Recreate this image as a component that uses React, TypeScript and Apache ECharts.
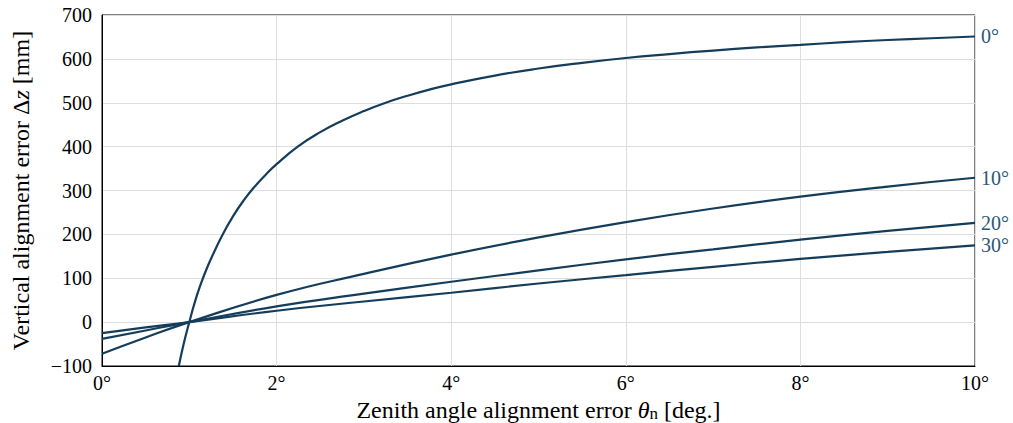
import React, { useEffect, useRef } from "react";
import * as echarts from "echarts";

// ---- Data ----
const xTicks = [0, 2, 4, 6, 8, 10];
const yTicks = [-100, 0, 100, 200, 300, 400, 500, 600, 700];

// 0° curve (denser where it bends sharply)
const theta0 = [
  0.88, 0.94, 1.0, 1.0625, 1.125, 1.1875, 1.25, 1.375, 1.5, 1.625, 1.75, 1.875, 2.0,
  2.25, 2.5, 2.75, 3.0, 3.25, 3.5, 3.75, 4.0,
  4.5, 5.0, 5.5, 6.0, 6.5, 7.0, 7.5, 8.0, 8.5, 9.0, 9.5, 10.0,
];
const dz0 = [
  -100, -46, 0, 45, 83, 116, 145, 197, 241, 278, 309, 336, 360,
  401, 433, 459, 481, 500, 516, 530, 542,
  562, 578, 591, 602, 611, 619, 626, 632, 638, 643, 647, 651,
];

// 10°, 20°, 30° curves share x positions
const thetaN = [0, 0.5, 1, 2, 3, 4, 5, 6, 7, 8, 9, 10];
const dz10 = [-72, -35, 0, 62, 110, 154, 193, 228, 259, 286, 309, 329];
const dz20 = [-38, -19, 0, 36, 65, 92, 118, 143, 166, 188, 208, 226];
const dz30 = [-25, -12, 0, 26, 47, 67, 88, 107, 126, 144, 160, 175];

const curveLabels = ["0°", "10°", "20°", "30°"];

const FONT = "'Liberation Serif', 'Times New Roman', serif";
const LINE_COLOR = "#143d5c";
const LABEL_COLOR = "#2b5677";

function pairs(xs: number[], ys: number[]) {
  return xs.map((x, i) => [x, ys[i]]);
}

export default function App() {
  const ref = useRef<HTMLDivElement>(null);

  useEffect(() => {
    if (!ref.current) return;
    const chart = echarts.init(ref.current, undefined, { renderer: "svg" });

    const curves = [
      pairs(theta0, dz0),
      pairs(thetaN, dz10),
      pairs(thetaN, dz20),
      pairs(thetaN, dz30),
    ];

    const series = curves.map((data, i) => ({
      type: "line",
      data,
      smooth: 0.5,
      showSymbol: false,
      symbol: "none",
      clip: true,
      lineStyle: { color: LINE_COLOR, width: 2.2 },
      endLabel: {
        show: true,
        formatter: () => curveLabels[i],
        color: LABEL_COLOR,
        fontSize: 20,
        fontFamily: FONT,
        distance: 6,
      },
    }));

    const option = {
      animation: false,
      grid: {
        left: 102,
        right: 38,
        top: 15,
        bottom: 57,
        show: true,
        borderColor: "#000",
        borderWidth: 1,
        backgroundColor: "transparent",
        containLabel: false,
        outerBoundsMode: "none",
      },
      xAxis: {
        type: "value",
        min: xTicks[0],
        max: xTicks[xTicks.length - 1],
        interval: xTicks[1] - xTicks[0],
        axisLine: { show: true, onZero: false, lineStyle: { color: "#000", width: 1 } },
        axisTick: { show: false },
        splitLine: { show: true, lineStyle: { color: "#dedede", width: 1 } },
        axisLabel: {
          formatter: (v: number) => `${v}°`,
          fontSize: 20,
          fontFamily: FONT,
          color: "#000",
          margin: 7,
        },
        name: "{r|Zenith angle alignment error }{it|θ}{sub|n}{r| [deg.]}",
        nameLocation: "middle",
        nameGap: 29,
        nameTextStyle: {
          fontSize: 24,
          fontFamily: FONT,
          color: "#000",
          rich: {
            r: { fontSize: 24, fontFamily: FONT, color: "#000", lineHeight: 25 },
            it: { fontSize: 24, fontFamily: FONT, fontStyle: "italic", color: "#000", lineHeight: 25 },
            sub: { fontSize: 17, fontFamily: FONT, color: "#000", lineHeight: 14, verticalAlign: "bottom" },
          },
        },
      },
      yAxis: {
        type: "value",
        min: yTicks[0],
        max: yTicks[yTicks.length - 1],
        interval: yTicks[1] - yTicks[0],
        axisLine: { show: true, onZero: false, lineStyle: { color: "#000", width: 1 } },
        axisTick: { show: false },
        splitLine: { show: true, lineStyle: { color: "#dedede", width: 1 } },
        axisLabel: {
          formatter: (v: number) => (v < 0 ? `\u2212${Math.abs(v)}` : `${v}`),
          fontSize: 20,
          fontFamily: FONT,
          color: "#000",
          margin: 10,
        },
        name: "{r|Vertical alignment error Δ}{it|z}{r| [mm]}",
        nameLocation: "middle",
        nameRotate: 90,
        nameGap: 69,
        nameTextStyle: {
          fontSize: 24,
          fontFamily: FONT,
          color: "#000",
          rich: {
            r: { fontSize: 24, fontFamily: FONT, color: "#000" },
            it: { fontSize: 24, fontFamily: FONT, fontStyle: "italic", color: "#000" },
          },
        },
      },
      series,
    };

    chart.setOption(option as any);
    return () => chart.dispose();
  }, []);

  return (
    <div
      ref={ref}
      style={{ position: "absolute", left: 0, top: 0, width: 1013, height: 423, background: "#fff" }}
    />
  );
}
